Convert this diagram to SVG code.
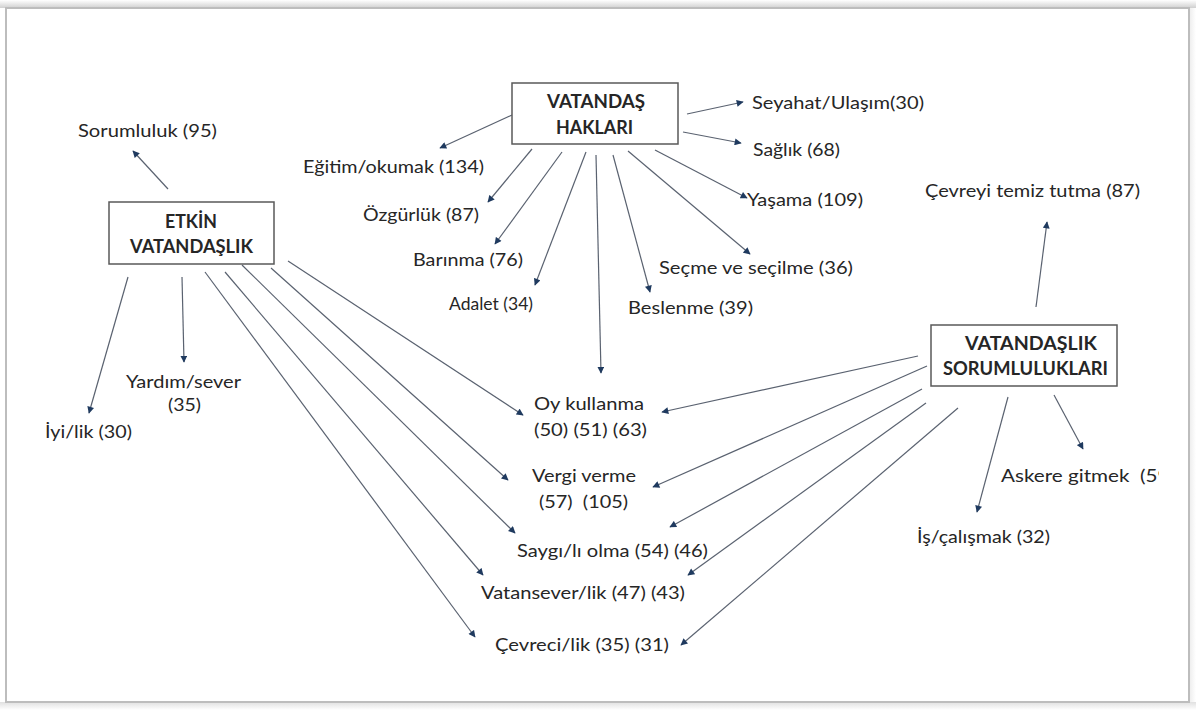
<svg xmlns="http://www.w3.org/2000/svg" width="1196" height="710" viewBox="0 0 1196 710">
<defs>
<style>
.t{font-family:Lato,"Open Sans","Liberation Sans",sans-serif;font-size:18px;fill:#262626}
.b{font-family:Lato,"Open Sans","Liberation Sans",sans-serif;font-size:18px;font-weight:bold;fill:#262626}
.box{fill:#fff;stroke:#595959;stroke-width:1.5}
.c line{stroke:#5a6270;stroke-width:1.2;fill:none}
.c line.a{marker-end:url(#ah)}
</style>
<marker id="ah" viewBox="0 0 10 10" refX="9" refY="5" markerWidth="8" markerHeight="7" markerUnits="userSpaceOnUse" orient="auto">
<path d="M0,0 L10,5 L0,10 z" fill="#1f3a5f"/>
</marker>
<clipPath id="clipR"><rect x="0" y="0" width="1159" height="710"/></clipPath>
<linearGradient id="gt" x1="0" y1="0" x2="0" y2="1"><stop offset="0" stop-color="#fff"/><stop offset="1" stop-color="#d0d0d0"/></linearGradient>
<linearGradient id="gb" x1="0" y1="0" x2="0" y2="1"><stop offset="0" stop-color="#e0e0e0"/><stop offset="1" stop-color="#fff"/></linearGradient>
<linearGradient id="gr" x1="0" y1="0" x2="1" y2="0"><stop offset="0" stop-color="#ececec"/><stop offset="1" stop-color="#fff"/></linearGradient>
</defs>
<rect x="0" y="0" width="1196" height="710" fill="#fff"/>
<g id="frame">
<rect x="0" y="0" width="1196" height="8" fill="url(#gt)"/>
<rect x="0" y="702" width="1196" height="8" fill="url(#gb)"/>
<rect x="1189" y="8" width="7" height="694" fill="url(#gr)"/>
<rect x="6" y="8" width="1183" height="694" fill="#fff" stroke="#bdbdbd" stroke-width="2"/>
</g>

<g id="connectors" class="c">
<line class="a" x1="168" y1="189" x2="133" y2="151"/>
<line class="a" x1="128" y1="277" x2="89" y2="413"/>
<line class="a" x1="182" y1="277" x2="184" y2="362"/>
<line class="a" x1="205" y1="272" x2="475" y2="637"/>
<line class="a" x1="225" y1="272" x2="483" y2="575"/>
<line class="a" x1="242" y1="265" x2="515" y2="533"/>
<line class="a" x1="271" y1="268" x2="508" y2="480"/>
<line class="a" x1="288" y1="261" x2="523" y2="415"/>
<line class="a" x1="512" y1="115" x2="440" y2="148"/>
<line class="a" x1="532" y1="149" x2="488" y2="202"/>
<line class="a" x1="562" y1="152" x2="495" y2="244"/>
<line class="a" x1="586" y1="152" x2="535" y2="285"/>
<line class="a" x1="596" y1="155" x2="601" y2="373"/>
<line class="a" x1="613" y1="155" x2="650" y2="292"/>
<line class="a" x1="628" y1="151" x2="750" y2="254"/>
<line class="a" x1="655" y1="150" x2="747" y2="198"/>
<line class="a" x1="683" y1="132" x2="741" y2="143"/>
<line class="a" x1="687" y1="114" x2="743" y2="102"/>
<line class="a" x1="1036" y1="307" x2="1047" y2="222"/>
<line class="a" x1="1008" y1="397" x2="977" y2="512"/>
<line class="a" x1="1054" y1="395" x2="1083" y2="449"/>
<line class="a" x1="918" y1="356" x2="662" y2="412"/>
<line class="a" x1="927" y1="366" x2="653" y2="487"/>
<line class="a" x1="922" y1="389" x2="670" y2="527"/>
<line class="a" x1="926" y1="403" x2="688" y2="575"/>
<line class="a" x1="958" y1="408" x2="681" y2="645"/>
</g>

<g id="etkin">
<rect class="box" x="109" y="202" width="165" height="62"/>
<text class="b" x="165" y="228" textLength="52" lengthAdjust="spacingAndGlyphs">ETKİN</text>
<text class="b" x="130" y="253" textLength="123" lengthAdjust="spacingAndGlyphs">VATANDAŞLIK</text>
</g>
<g id="haklari">
<rect class="box" x="512" y="83" width="166" height="61"/>
<text class="b" x="547" y="108" textLength="98" lengthAdjust="spacingAndGlyphs">VATANDAŞ</text>
<text class="b" x="556" y="134" textLength="77" lengthAdjust="spacingAndGlyphs">HAKLARI</text>
</g>
<g id="sorumluluklari">
<rect class="box" x="931" y="325" width="186" height="61"/>
<text class="b" x="965" y="350" textLength="132" lengthAdjust="spacingAndGlyphs">VATANDAŞLIK</text>
<text class="b" x="943" y="375" textLength="165" lengthAdjust="spacingAndGlyphs">SORUMLULUKLARI</text>
</g>

<g id="sorumluluk"><text class="t" x="78" y="137" textLength="139" lengthAdjust="spacingAndGlyphs">Sorumluluk (95)</text></g>
<g id="iyilik"><text class="t" x="45" y="438" textLength="87" lengthAdjust="spacingAndGlyphs">İyi/lik (30)</text></g>
<g id="yardimsever">
<text class="t" x="126" y="388" textLength="115" lengthAdjust="spacingAndGlyphs">Yardım/sever</text>
<text class="t" x="168" y="411" textLength="33" lengthAdjust="spacingAndGlyphs">(35)</text>
</g>

<g id="egitim"><text class="t" x="303" y="173" textLength="181" lengthAdjust="spacingAndGlyphs">Eğitim/okumak (134)</text></g>
<g id="ozgurluk"><text class="t" x="363" y="221" textLength="116" lengthAdjust="spacingAndGlyphs">Özgürlük (87)</text></g>
<g id="barinma"><text class="t" x="413" y="266" textLength="110" lengthAdjust="spacingAndGlyphs">Barınma (76)</text></g>
<g id="adalet"><text class="t" x="449" y="310" textLength="84" lengthAdjust="spacingAndGlyphs">Adalet (34)</text></g>
<g id="beslenme"><text class="t" x="628" y="314" textLength="125" lengthAdjust="spacingAndGlyphs">Beslenme (39)</text></g>
<g id="secme"><text class="t" x="659" y="274" textLength="194" lengthAdjust="spacingAndGlyphs">Seçme ve seçilme (36)</text></g>
<g id="yasama"><text class="t" x="747" y="206" textLength="116" lengthAdjust="spacingAndGlyphs">Yaşama (109)</text></g>
<g id="saglik"><text class="t" x="753" y="156" textLength="87" lengthAdjust="spacingAndGlyphs">Sağlık (68)</text></g>
<g id="seyahat"><text class="t" x="752" y="109" textLength="172" lengthAdjust="spacingAndGlyphs">Seyahat/Ulaşım(30)</text></g>

<g id="cevreyi"><text class="t" x="925" y="197" textLength="215" lengthAdjust="spacingAndGlyphs">Çevreyi temiz tutma (87)</text></g>
<g id="askere"><text class="t" x="1001" y="482" clip-path="url(#clipR)" textLength="174" lengthAdjust="spacingAndGlyphs" xml:space="preserve">Askere gitmek  (59)</text></g>
<g id="iscalismak"><text class="t" x="917" y="543" textLength="133" lengthAdjust="spacingAndGlyphs">İş/çalışmak (32)</text></g>

<g id="oy">
<text class="t" x="534" y="410" textLength="110" lengthAdjust="spacingAndGlyphs">Oy kullanma</text>
<text class="t" x="534" y="436" textLength="113" lengthAdjust="spacingAndGlyphs">(50) (51) (63)</text>
</g>
<g id="vergi">
<text class="t" x="532" y="482" textLength="104" lengthAdjust="spacingAndGlyphs">Vergi verme</text>
<text class="t" x="539" y="508" textLength="89" lengthAdjust="spacingAndGlyphs" xml:space="preserve">(57)  (105)</text>
</g>
<g id="saygi"><text class="t" x="517" y="557" textLength="191" lengthAdjust="spacingAndGlyphs">Saygı/lı olma (54) (46)</text></g>
<g id="vatansever"><text class="t" x="481" y="599" textLength="204" lengthAdjust="spacingAndGlyphs">Vatansever/lik (47) (43)</text></g>
<g id="cevreci"><text class="t" x="495" y="651" textLength="174" lengthAdjust="spacingAndGlyphs">Çevreci/lik (35) (31)</text></g>
</svg>
